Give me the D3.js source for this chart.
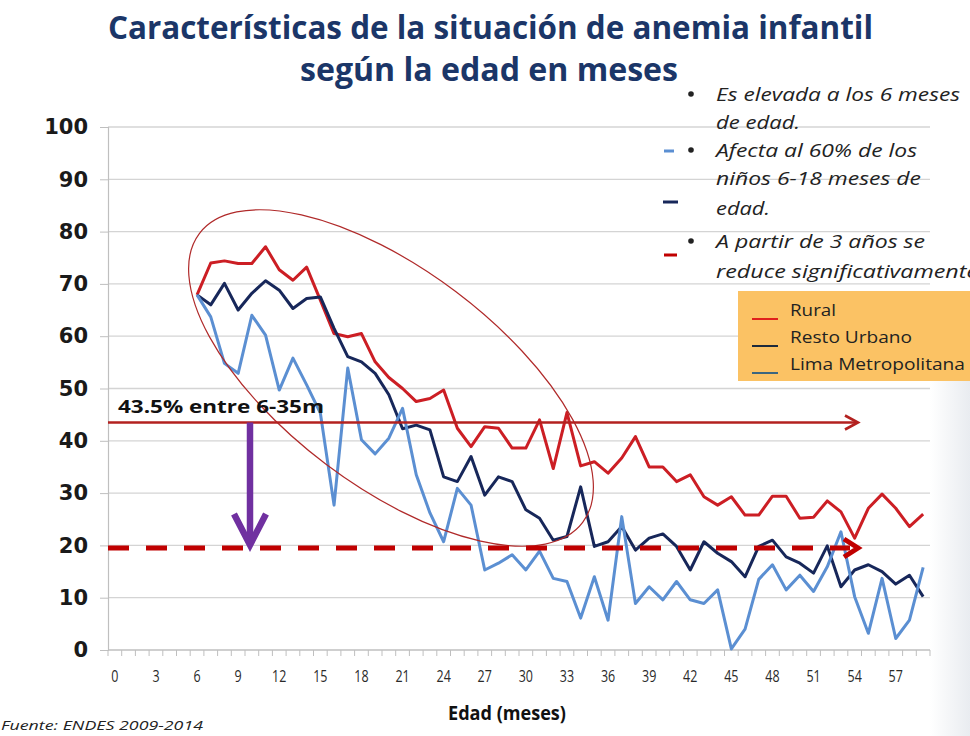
<!DOCTYPE html>
<html><head><meta charset="utf-8">
<script src="https://cdn.jsdelivr.net/npm/d3@7"></script>
<style>html,body{margin:0;padding:0;background:#fff;overflow:hidden}</style>
</head><body><svg id="c" width="970" height="736"></svg>
<script>
// ---- data ----
const axisMonths = d3.range(0, 60);
const ages = [6,7,8,9,10,11,12,13,14,15,16,17,18,19,20,21,22,23,24,25,26,27,28,29,30,31,32,33,34,35,36,37,38,39,40,41,42,43,44,45,46,47,48,49,50,51,52,53,54,55,56,57,58,59];
const rural = [67.9,74,74.4,73.9,73.9,77.1,72.7,70.7,73.2,66.9,60.5,59.9,60.5,55.1,52.1,50,47.5,48.1,49.7,42.4,38.9,42.7,42.4,38.6,38.6,44,34.7,45.4,35.2,36,33.8,36.7,40.8,35,35,32.2,33.5,29.3,27.7,29.3,25.8,25.8,29.4,29.4,25.2,25.4,28.5,26.4,21.4,27.1,29.8,27.1,23.6,26];
const restoUrbano = [67.9,66,70.1,65,68.2,70.6,68.8,65.3,67.2,67.5,61.5,56.1,55.1,52.9,48.8,42.3,43,42.1,33.1,32.2,37,29.6,33.1,32.2,26.8,25.2,21,21.7,31.2,19.8,20.7,23.6,19.1,21.4,22.2,19.8,15.3,20.7,18.5,16.9,14,19.8,21,17.8,16.6,14.7,19.9,12.1,15.3,16.3,15,12.6,14.3,10.2];
const limaMetro = [67.9,63.7,54.8,52.9,64,60.2,49.7,55.8,50.7,45.3,27.7,53.9,40.2,37.5,40.5,46.2,33.5,26.2,20.7,30.9,27.7,15.3,16.6,18.2,15.3,18.9,13.7,13.1,6.1,14,5.7,25.5,8.9,12.1,9.6,13.1,9.6,8.9,11.5,0.2,4,13.5,16.3,11.5,14.3,11.2,15.9,22.6,10.2,3.2,13.7,2.2,5.7,15.8];
const xTickMonths = [0,3,6,9,12,15,18,21,24,27,30,33,36,39,42,45,48,51,54,57];
const yTicks = [0,10,20,30,40,50,60,70,80,90,100];
const avgValue = 43.5;      // promedio 6-35m
const targetValue = 19.5;   // meta (línea discontinua)
const seriesNames = ["Rural","Resto Urbano","Lima Metropolitana"];
const bullets = [
  ["Es elevada a los 6 meses","de edad."],
  ["Afecta al 60% de los","niños 6-18 meses de","edad."],
  [" A partir de 3 años se","reduce significativamente"]
];

// ---- setup ----
const svg = d3.select("#c");
const L = 108, R = 930;
const x = d3.scaleBand().domain(axisMonths).range([L, R]);
const cx = m => x(m) + x.bandwidth() / 2;
const y = d3.scaleLinear().domain([0, 100]).range([650, 127]);

// background tint on right edge
const defs = svg.append("defs");
const g1 = defs.append("linearGradient").attr("id","bgR").attr("x1","0").attr("x2","1").attr("y1","0").attr("y2","0");
g1.append("stop").attr("offset","0").attr("stop-color","#ffffff");
g1.append("stop").attr("offset","1").attr("stop-color","#e9ecf0");
svg.append("rect").attr("x",930).attr("y",380).attr("width",40).attr("height",356).attr("fill","url(#bgR)");

// gridlines
svg.append("g").selectAll("line").data(yTicks).join("line")
  .attr("x1", L).attr("x2", R).attr("y1", d => y(d)).attr("y2", d => y(d))
  .attr("stroke", "#d4d4d4").attr("stroke-width", 1.3);

// y axis
const ya = svg.append("g").attr("transform", `translate(${L},0)`)
  .call(d3.axisLeft(y).tickValues(yTicks).tickSize(8).tickPadding(12));
ya.select(".domain").attr("stroke", "#bfbfbf").attr("stroke-width", 1.2);
ya.selectAll(".tick line").attr("stroke", "#bfbfbf");
ya.selectAll("text").attr("font-family", "DejaVu Sans").attr("font-weight", "bold")
  .attr("font-size", 21).attr("fill", "#1a1a1a");

// x axis line + minor ticks at category boundaries
svg.append("line").attr("x1", L).attr("x2", R).attr("y1", y(0)).attr("y2", y(0))
  .attr("stroke", "#bfbfbf").attr("stroke-width", 1.2);
svg.append("g").selectAll("line").data(axisMonths.concat([null])).join("line")
  .attr("x1", d => d === null ? R : x(d)).attr("x2", d => d === null ? R : x(d))
  .attr("y1", y(0)).attr("y2", y(0) + 6).attr("stroke", "#bfbfbf");
svg.append("g").selectAll("text").data(xTickMonths).join("text")
  .attr("x", d => cx(d)).attr("y", 682).attr("text-anchor", "middle")
  .attr("font-family", "Open Sans").attr("font-size", 16).attr("fill", "#2a2a2a")
  .attr("transform", d => `translate(${cx(d)},0) scale(0.78,1) translate(${-cx(d)},0)`)
  .text(d => d);

// lines
const line = d3.line().x((d, i) => cx(ages[i])).y(d => y(d));
const seriesData = [rural, restoUrbano, limaMetro];
const seriesColors = ["#cc1e24", "#17275a", "#5b8fd2"];
seriesData.forEach((s, k) => {
  svg.append("path").datum(s).attr("d", line).attr("fill", "none")
    .attr("stroke", seriesColors[k]).attr("stroke-width", 3).attr("stroke-linejoin", "round");
});

// ellipse
svg.append("ellipse").attr("cx", 391).attr("cy", 378).attr("rx", 240).attr("ry", 108)
  .attr("transform", "rotate(37 391 378)").attr("fill", "none")
  .attr("stroke", "#b02a2a").attr("stroke-width", 1.2);

// average line with arrow
const ay = y(avgValue), arrowX = 858;
svg.append("line").attr("x1", L).attr("x2", arrowX).attr("y1", ay).attr("y2", ay)
  .attr("stroke", "#b3211f").attr("stroke-width", 2.6);
svg.append("polyline").attr("points", `${arrowX-13},${ay-7} ${arrowX},${ay} ${arrowX-13},${ay+7}`)
  .attr("fill", "none").attr("stroke", "#b3211f").attr("stroke-width", 2.6);
svg.append("text").attr("x", 118).attr("y", ay - 9).attr("font-family", "Open Sans")
  .attr("font-weight", "bold").attr("font-size", 18).attr("fill", "#111")
  .attr("textLength", 206).attr("lengthAdjust", "spacingAndGlyphs").text("43.5% entre 6-35m");

// target dashed line with arrow
const ty = y(targetValue);
svg.append("line").attr("x1", L).attr("x2", arrowX - 8).attr("y1", ty).attr("y2", ty)
  .attr("stroke", "#c00000").attr("stroke-width", 5).attr("stroke-dasharray", "21 17");
svg.append("polyline").attr("points", `${arrowX-14},${ty-9} ${arrowX},${ty} ${arrowX-14},${ty+9}`)
  .attr("fill", "none").attr("stroke", "#c00000").attr("stroke-width", 5);

// purple arrow
const px = 250;
svg.append("line").attr("x1", px).attr("x2", px).attr("y1", ay).attr("y2", ty - 4)
  .attr("stroke", "#7030a0").attr("stroke-width", 6.5);
svg.append("polyline").attr("points", `${px-16},${ty-34} ${px},${ty-3} ${px+16},${ty-34}`)
  .attr("fill", "none").attr("stroke", "#7030a0").attr("stroke-width", 6.5);

// title
svg.append("text").attr("x", 108).attr("y", 39).attr("font-family", "Open Sans").attr("font-weight", "bold")
  .attr("font-size", 33).attr("fill", "#1b3668").attr("textLength", 765).attr("lengthAdjust", "spacingAndGlyphs")
  .text("Características de la situación de anemia infantil");
svg.append("text").attr("x", 300).attr("y", 81).attr("font-family", "Open Sans").attr("font-weight", "bold")
  .attr("font-size", 33).attr("fill", "#1b3668").attr("textLength", 378).attr("lengthAdjust", "spacingAndGlyphs")
  .text("según la edad en meses");

// bullet notes
const lineYs = [[101,129],[157,185,215],[248,278]];
const lineWs = [[244,84],[201,205,54],[209,262]];
bullets.forEach((b, i) => {
  svg.append("circle").attr("cx", 691).attr("cy", lineYs[i][0] - 7).attr("r", 2.8).attr("fill", "#222");
  b.forEach((t, j) => {
    svg.append("text").attr("x", 716).attr("y", lineYs[i][j]).attr("font-family", "Open Sans")
      .attr("font-style", "italic").attr("font-size", 19).attr("fill", "#222")
      .attr("textLength", lineWs[i][j]).attr("lengthAdjust", "spacingAndGlyphs").text(t);
  });
});
// stray legend marks behind the notes
svg.append("line").attr("x1", 664).attr("x2", 674).attr("y1", 151).attr("y2", 151).attr("stroke", "#5b8fd2").attr("stroke-width", 3);
svg.append("line").attr("x1", 663).attr("x2", 678).attr("y1", 202).attr("y2", 202).attr("stroke", "#17275a").attr("stroke-width", 3);
svg.append("line").attr("x1", 664).attr("x2", 677).attr("y1", 255).attr("y2", 255).attr("stroke", "#c00000").attr("stroke-width", 3);

// legend box
svg.append("rect").attr("x", 738).attr("y", 291).attr("width", 232).attr("height", 90).attr("fill", "#fbc264");
const legColors = ["#e0201c", "#1d2a3c", "#3b6680"];
const legYs = [316, 343, 370];
const legWs = [46, 122, 175];
seriesNames.forEach((n, i) => {
  svg.append("line").attr("x1", 752).attr("x2", 778).attr("y1", legYs[i] + 3).attr("y2", legYs[i] + 3)
    .attr("stroke", legColors[i]).attr("stroke-width", 2);
  svg.append("text").attr("x", 790).attr("y", legYs[i]).attr("font-family", "Open Sans")
    .attr("font-size", 17).attr("fill", "#222").attr("textLength", legWs[i])
    .attr("lengthAdjust", "spacingAndGlyphs").text(n);
});

// axis title + source
svg.append("text").attr("x", 507).attr("y", 720).attr("text-anchor", "middle").attr("font-family", "Open Sans")
  .attr("font-weight", "bold").attr("font-size", 19).attr("fill", "#111")
  .attr("textLength", 118).attr("lengthAdjust", "spacingAndGlyphs").text("Edad (meses)");
svg.append("text").attr("x", 1).attr("y", 730).attr("font-family", "Open Sans").attr("font-style", "italic")
  .attr("font-size", 13).attr("fill", "#222").attr("textLength", 202).attr("lengthAdjust", "spacingAndGlyphs")
  .text("Fuente: ENDES 2009-2014");
</script></body></html>
